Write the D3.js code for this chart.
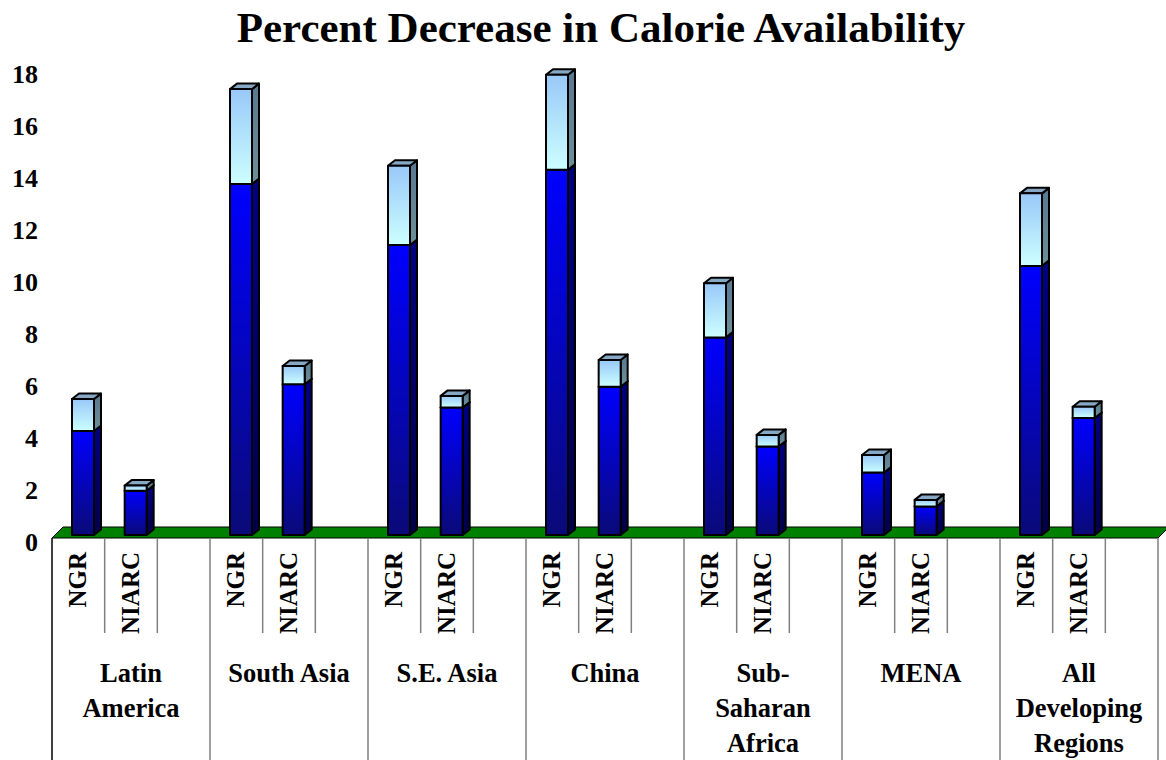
<!DOCTYPE html>
<html>
<head>
<meta charset="utf-8">
<script src="https://cdn.jsdelivr.net/npm/d3@7"></script>
<style>
  body { margin: 0; background: #fff; }
  svg { display: block; }
  svg text { font-family: "Liberation Serif", "Times New Roman", serif; font-weight: 700; fill: #000; }
</style>
</head>
<body>
<div id="chart"></div>
<script>
(function(d3) {

  'use strict';

  // data
  var regions = ['Latin America', 'South Asia', 'S.E. Asia', 'China', 'Sub-Saharan Africa', 'MENA', 'All Developing Regions'];
  var regionLines = [['Latin', 'America'], ['South Asia'], ['S.E. Asia'], ['China'], ['Sub-', 'Saharan', 'Africa'], ['MENA'], ['All', 'Developing', 'Regions']];
  var programs = ['NGR', 'NIARC'];
  var slots = ['NGR', 'NIARC', ''];
  var baseNGR = [4.0, 13.5, 11.15, 14.05, 7.6, 2.4, 10.35];
  var baseNIARC = [1.7, 5.8, 4.9, 5.7, 3.4, 1.1, 4.5];
  var addNGR = [1.23, 3.65, 3.05, 3.65, 2.08, 0.68, 2.79];
  var addNIARC = [0.2, 0.7, 0.45, 1.03, 0.45, 0.25, 0.43];
  var yTicks = [0, 2, 4, 6, 8, 10, 12, 14, 16, 18];

  var W = 1166, H = 760;
  var left = 52, right = 1158, zeroY = 535, unit = 26;
  var depth = { dx: 7, dy: 5.5 };

  var svg = d3.select('#chart').append('svg')
    .attr('width', W)
    .attr('height', H);

  var defs = svg.append('defs');
  function gradient(id, top, bottom) {
    var g = defs.append('linearGradient').attr('id', id)
      .attr('x1', 0).attr('y1', 0).attr('x2', 0).attr('y2', 1);
    g.append('stop').attr('offset', '0%').attr('stop-color', top);
    g.append('stop').attr('offset', '100%').attr('stop-color', bottom);
  }
  gradient('darkFront', '#0000ff', '#0a0a78');
  gradient('darkSide', '#000080', '#000048');
  gradient('lightFront', '#99c8f8', '#ccffff');
  gradient('lightSide', '#587890', '#6c9098');

  var rows = [];
  regions.forEach(function(r, i) {
    rows.push({ region: r, program: 'NGR', base: baseNGR[i], add: addNGR[i] });
    rows.push({ region: r, program: 'NIARC', base: baseNIARC[i], add: addNIARC[i] });
  });

  var series = d3.stack().keys(['base', 'add'])(rows);

  var x0 = d3.scaleBand().domain(regions).range([left, right]);
  var x1 = d3.scaleBand().domain(slots).range([0, x0.bandwidth()]);
  var y = d3.scaleLinear().domain([0, 18]).range([zeroY, zeroY - 18 * unit]);

  // title
  svg.append('text')
    .attr('x', 601)
    .attr('y', 42)
    .attr('text-anchor', 'middle')
    .style('font-size', '43px')
    .text('Percent Decrease in Calorie Availability');

  // value axis
  var axis = svg.append('g')
    .attr('transform', 'translate(38,0)')
    .call(d3.axisLeft(y).tickValues(yTicks).tickSize(0).tickPadding(0));
  axis.select('.domain').remove();
  axis.selectAll('text')
    .attr('y', 7)
    .attr('fill', '#000')
    .style('font-family', '"Liberation Serif", "Times New Roman", serif')
    .style('font-weight', '700')
    .style('font-size', '26px');

  // floor
  svg.append('polygon')
    .attr('points', [[left, 538], [right, 538], [right + 11, 527], [left + 11, 527]].join(' '))
    .attr('fill', '#008000')
    .attr('stroke', '#000')
    .attr('stroke-width', 1);

  // bars
  var barW = 22, barOff = 20;
  var styles = [
    { front: 'url(#darkFront)', side: 'url(#darkSide)', top: '#1a1a90' },
    { front: 'url(#lightFront)', side: 'url(#lightSide)', top: '#86a8c4' }
  ];

  var bars = svg.append('g');
  series.forEach(function(s, k) {
    var seg = bars.selectAll('g.seg' + k)
      .data(s)
      .enter()
      .append('g')
      .attr('class', 'seg' + k)
      .attr('stroke', '#000')
      .attr('stroke-width', 2)
      .attr('stroke-linejoin', 'round');

    seg.append('polygon')
      .attr('fill', styles[k].side)
      .attr('points', function(d) {
        var xr = x0(d.data.region) + x1(d.data.program) + barOff + barW;
        return [[xr, y(d[1])], [xr + depth.dx, y(d[1]) - depth.dy], [xr + depth.dx, y(d[0]) - depth.dy], [xr, y(d[0])]].join(' ');
      });

    seg.append('polygon')
      .attr('fill', styles[k].top)
      .attr('points', function(d) {
        var xl = x0(d.data.region) + x1(d.data.program) + barOff;
        var yt = y(d[1]);
        return [[xl, yt], [xl + depth.dx, yt - depth.dy], [xl + barW + depth.dx, yt - depth.dy], [xl + barW, yt]].join(' ');
      });

    seg.append('rect')
      .attr('fill', styles[k].front)
      .attr('x', function(d) { return x0(d.data.region) + x1(d.data.program) + barOff; })
      .attr('y', function(d) { return y(d[1]); })
      .attr('width', barW)
      .attr('height', function(d) { return y(d[0]) - y(d[1]); });
  });

  // category table
  var table = svg.append('g').attr('stroke', '#808080').attr('stroke-width', 1.5);
  regions.forEach(function(r, i) {
    var gx = x0(r);
    table.append('line')
      .attr('x1', gx).attr('x2', gx)
      .attr('y1', 538).attr('y2', H)
      .attr('stroke', i === 0 ? '#000' : '#808080');
    slots.slice(1).forEach(function(s) {
      var sx = gx + x1(s);
      table.append('line')
        .attr('x1', sx).attr('x2', sx)
        .attr('y1', 538).attr('y2', 633);
    });
  });
  table.append('line')
    .attr('x1', right).attr('x2', right)
    .attr('y1', 538).attr('y2', H);

  var labels = svg.append('g');
  regions.forEach(function(r, i) {
    programs.forEach(function(p) {
      var cx = x0(r) + x1(p) + x1.bandwidth() / 2 + 8;
      labels.append('text')
        .attr('transform', 'translate(' + cx + ',552) rotate(-90)')
        .attr('text-anchor', 'end')
        .style('font-size', '25px')
        .style('font-weight', '900')
        .text(p);
    });
    regionLines[i].forEach(function(line, j) {
      labels.append('text')
        .attr('x', x0(r) + x0.bandwidth() / 2)
        .attr('y', 682 + j * 35)
        .attr('text-anchor', 'middle')
        .style('font-size', '26.5px')
        .text(line);
    });
  });

})(d3);
</script>
</body>
</html>
